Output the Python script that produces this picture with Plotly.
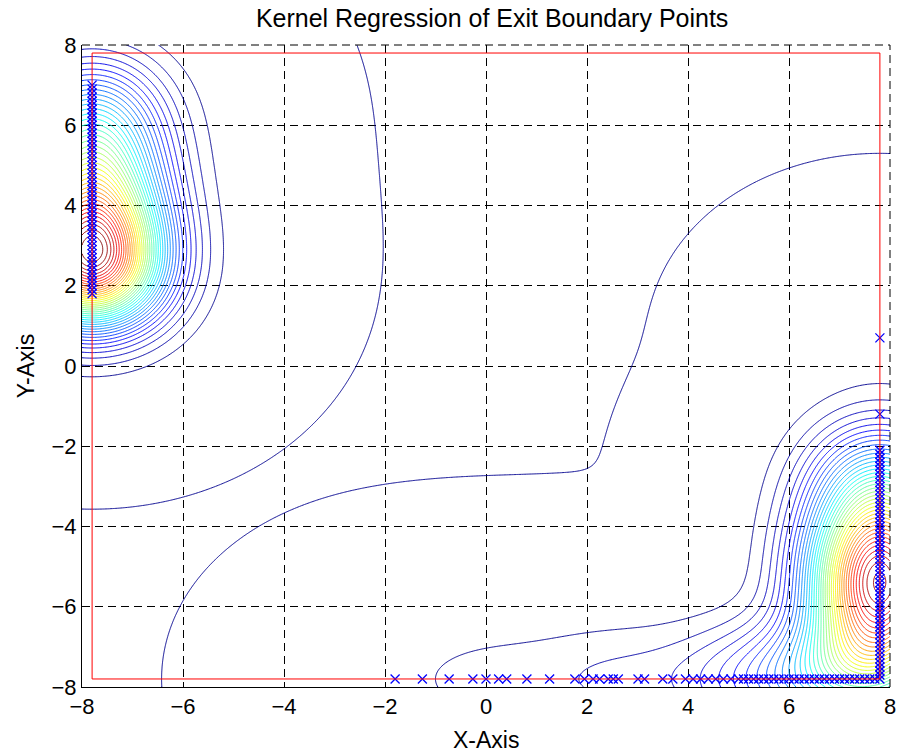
import numpy as np
import plotly.graph_objects as go

# ---------------- data ----------------
EDGE = 7.8  # exit boundary of the square domain

# exits on the left edge (x = -7.8): position along the edge and number of exits
left_y = [1.8, 1.9, 2.0, 2.1, 2.2, 2.3, 2.4, 2.5, 2.6, 2.7, 2.8, 2.9, 3.0, 3.1, 3.2,
          3.3, 3.4, 3.5, 3.6, 3.7, 3.8, 3.9, 4.0, 4.1, 4.2, 4.3, 4.4, 4.5, 4.6, 4.7,
          4.8, 4.9, 5.0, 5.1, 5.2, 5.3, 5.4, 5.5, 5.6, 5.7, 5.8, 5.9, 6.0, 6.1, 6.2,
          6.3, 6.4, 6.5, 6.6, 6.7, 6.8, 6.9, 7.0]
left_n = [11, 12, 12, 13, 13, 13, 13, 13, 13, 12, 11, 10, 10, 9, 9,
          8, 8, 8, 7, 7, 7, 7, 6, 6, 6, 6, 6, 6, 5, 5,
          5, 5, 5, 5, 5, 4, 4, 4, 4, 4, 4, 4, 4, 4, 4,
          4, 4, 3, 3, 3, 3, 3, 3]

# exits on the right edge (x = 7.8)
right_y = [-7.8, -7.7, -7.6, -7.5, -7.4, -7.3, -7.2, -7.1, -7.0, -6.9, -6.8, -6.7, -6.6,
           -6.5, -6.4, -6.3, -6.2, -6.1, -6.0, -5.9, -5.8, -5.7, -5.6, -5.5, -5.4, -5.3,
           -5.2, -5.1, -5.0, -4.9, -4.8, -4.7, -4.6, -4.5, -4.4, -4.3, -4.2, -4.1, -4.0,
           -3.9, -3.8, -3.7, -3.6, -3.5, -3.4, -3.3, -3.2, -3.1, -3.0, -2.9, -2.8, -2.7,
           -2.6, -2.5, -2.4, -2.3, -2.2, -2.1, -1.2, 0.7]
right_n = [5, 5, 5, 5, 5, 5, 5, 5, 5, 5, 6, 6, 6,
           7, 7, 7, 8, 8, 8, 9, 9, 10, 10, 10, 10, 10,
           10, 10, 10, 9, 9, 9, 8, 8, 7, 7, 7, 6, 6,
           5, 5, 5, 5, 5, 5, 5, 5, 4, 4, 4, 4, 4,
           4, 4, 3, 3, 3, 3, 1, 1]

# exits on the bottom edge (y = -7.8)
bottom_x = [-1.8, -1.26, -0.73, -0.26, 0.0, 0.25, 0.41, 0.81, 1.26, 1.76, 1.95, 2.12,
            2.25, 2.42, 2.52, 2.62, 3.01, 3.14, 3.5, 3.7,
            3.95, 4.1, 4.25, 4.4, 4.55, 4.7, 4.85,
            5.0, 5.1, 5.2, 5.3, 5.4, 5.5, 5.6, 5.7, 5.8, 5.9,
            6.0, 6.1, 6.2, 6.3, 6.4, 6.5, 6.6, 6.7, 6.8, 6.9, 7.0, 7.1, 7.2, 7.3,
            7.4, 7.5, 7.6, 7.7]
bottom_n = [1, 1, 1, 1, 1, 1, 1, 1, 1, 1, 1, 1,
            1, 1, 1, 1, 1, 1, 1, 1,
            1, 1, 1, 1, 1, 1, 1,
            1, 2, 1, 2, 2, 2, 2, 2, 2, 2,
            2, 2, 2, 2, 2, 2, 3, 3, 3, 3, 3, 3, 3, 3,
            3, 3, 3, 3]

BANDWIDTH = 0.955       # Gaussian kernel width for the main contour set
N_LEVELS = 40           # evenly spaced contour levels
OUTER_BANDWIDTH = 1.06  # smoother estimate used for the outermost low-density contour
OUTER_RADIUS = 4.6      # that contour's distance from an isolated exit point

# ---------------- kernel estimate on a grid ----------------
px = np.concatenate([np.full(len(left_y), -EDGE), np.full(len(right_y), EDGE), np.array(bottom_x)])
py = np.concatenate([np.array(left_y), np.array(right_y), np.full(len(bottom_x), -EDGE)])
pw = np.concatenate([left_n, right_n, bottom_n]).astype(float)

g = np.linspace(-8, 8, 321)
GX, GY = np.meshgrid(g, g)


def kde(h):
    z = np.zeros_like(GX)
    for xi, yi, wi in zip(px, py, pw):
        z += wi * np.exp(-((GX - xi) ** 2 + (GY - yi) ** 2) / (2 * h ** 2))
    return z


Z = kde(BANDWIDTH)
Z2 = kde(OUTER_BANDWIDTH)

zmax = float(Z.max())
step = zmax / (N_LEVELS + 1)

jet = [[0.0, '#00008F'], [0.125, '#0000FF'], [0.375, '#00FFFF'],
       [0.625, '#FFFF00'], [0.875, '#FF0000'], [1.0, '#800000']]

fig = go.Figure()
fig.add_trace(go.Contour(
    x=g, y=g, z=Z, autocontour=False,
    contours=dict(start=step, end=N_LEVELS * step, size=step, coloring='lines'),
    colorscale=jet, showscale=False, line=dict(width=1, smoothing=0), hoverinfo='skip'))

lv = -OUTER_RADIUS ** 2 / (2 * OUTER_BANDWIDTH ** 2) / np.log(10)
fig.add_trace(go.Contour(
    x=g, y=g, z=np.log10(Z2), autocontour=False,
    contours=dict(start=lv, end=lv, size=1, coloring='lines'),
    colorscale=[[0, '#00008F'], [1, '#00008F']], showscale=False,
    line=dict(width=1, smoothing=0), hoverinfo='skip'))

fig.add_trace(go.Scatter(
    x=px, y=py, mode='markers',
    marker=dict(symbol='x-thin', size=9, line=dict(color='#0000FF', width=1.3)),
    hoverinfo='skip'))

fig.add_trace(go.Scatter(
    x=[-EDGE, EDGE, EDGE, -EDGE, -EDGE], y=[-EDGE, -EDGE, EDGE, EDGE, -EDGE],
    mode='lines', line=dict(color='#FF0000', width=1), hoverinfo='skip'))

FONT = 'Liberation Sans, Arial, Helvetica, sans-serif'
axis = dict(range=[-8, 8], tick0=0, dtick=2, showgrid=True, gridcolor='#000000',
            griddash='8px,5px', gridwidth=1, showline=True, linecolor='#000000',
            linewidth=1, zeroline=False, ticks='', tickfont=dict(size=22, color='black'))

fig.update_layout(
    width=908, height=753, margin=dict(l=82, r=15, t=45, b=66),
    paper_bgcolor='white', plot_bgcolor='white', showlegend=False,
    font=dict(family=FONT, color='black'),
    title=dict(text='Kernel Regression of Exit Boundary Points', x=0.542, xanchor='center',
               xref='container', y=1 - 18 / 753, yanchor='middle', yref='container',
               font=dict(size=25, color='black', family=FONT)),
    xaxis=axis, yaxis=axis,
    shapes=[dict(type='line', xref='paper', yref='paper', x0=0, x1=1, y0=1, y1=1,
                 line=dict(color='black', width=1, dash='8px,5px')),
            dict(type='line', xref='paper', yref='paper', x0=1, x1=1, y0=0, y1=1,
                 line=dict(color='black', width=1, dash='8px,5px'))],
    annotations=[dict(text='X-Axis', xref='paper', yref='paper', x=0.5, y=-53 / 642,
                      xanchor='center', yanchor='middle', showarrow=False,
                      font=dict(size=23, color='black')),
                 dict(text='Y-Axis', xref='paper', yref='paper', x=-56 / 811, y=0.5,
                      xanchor='center', yanchor='middle', textangle=-90, showarrow=False,
                      font=dict(size=23, color='black'))])

fig.write_html('out.html')
